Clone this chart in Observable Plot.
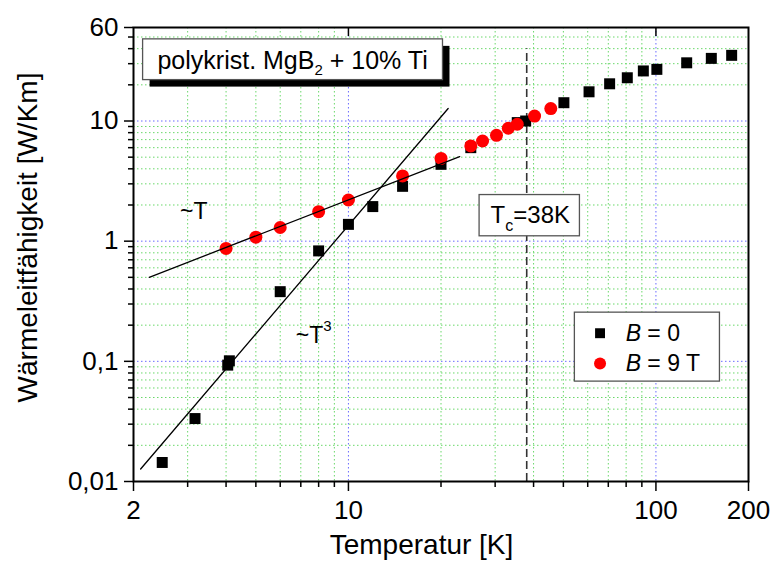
<!DOCTYPE html>
<html><head><meta charset="utf-8">
<script src="https://cdn.jsdelivr.net/npm/d3@7"></script>
<script src="https://cdn.jsdelivr.net/npm/@observablehq/plot@0.6"></script>
<style>body{margin:0;background:#fff;} #chart svg{display:block}</style>
</head><body><div id="chart"></div>
<script>
// ---- data ----
const tempB0  = [2.48, 3.17, 4.05, 4.1, 6.0, 8.0, 10.0, 12.0, 15.0, 20.0, 25.0, 35.4, 37.7, 50.2, 60.6, 70.7, 80.7, 91, 100.7, 125.9, 151.4, 176.3];
const kappaB0 = [0.0144, 0.0334, 0.093, 0.101, 0.38, 0.83, 1.38, 1.94, 2.86, 4.36, 6.0, 9.7, 10.0, 14.2, 17.5, 20.4, 22.9, 26.1, 26.9, 30.5, 33.2, 35.2];
const tempB9  = [4.0, 5.0, 6.0, 8.0, 10.0, 15.0, 20.0, 25.0, 27.3, 30.3, 33.1, 35.4, 40.3, 45.5];
const kappaB9 = [0.87, 1.08, 1.3, 1.76, 2.2, 3.49, 4.88, 6.2, 6.82, 7.6, 8.7, 9.4, 11.0, 12.7];
const fitLinT = [2.25, 23];
const fitLinK = [0.5, 5.06];
const fitCubT = [2.11, 21.1];
const fitCubK = [0.0127, 12.7];
const tcT = [38];
const tcK = [0.01, 40];
const xMajorTicks = [2, 10, 100, 200];
const xMinorTicks = [3, 4, 5, 6, 7, 8, 9, 20, 30, 40, 50, 60, 70, 80, 90];
const yMajorTicks = [0.01, 0.1, 1, 10];
const yTopTick = [60];
const yMinorTicks = [0.02,0.03,0.04,0.05,0.06,0.07,0.08,0.09,0.2,0.3,0.4,0.5,0.6,0.7,0.8,0.9,2,3,4,5,6,7,8,9,20,30,40,50];
const xGridMajor = [10, 100];
const yGridMajor = [0.1, 1, 10];
const topTicks = [10, 100];
// annotations (text, anchor in data units)
const annoLabels = ["polykrist. MgB2 + 10% Ti", "Tc=38K", "~T", "~T3", "B = 0", "B = 9 T"];
const annoX = [2.393, 29.0, 2.835, 6.74, 79.7, 79.7];
const annoY = [26.9, 1.425, 1.521, 0.143, 0.1477, 0.0832];
const annoSize = [25, 24, 23, 23, 23, 23];
const boxX1 = [2.149, 26.7, 54.5];
const boxX2 = [20.3, 56.6, 161.5];
const boxY1 = [21.9, 1.098, 0.0678];
const boxY2 = [47.8, 2.42, 0.2542];
const legendT = [65.8, 65.8];
const legendK = [0.1714, 0.0958];

const B0 = tempB0.map((t, i) => ({t, k: kappaB0[i]}));
const B9 = tempB9.map((t, i) => ({t, k: kappaB9[i]}));
const lin = fitLinT.map((t, i) => ({t, k: fitLinK[i]}));
const cub = fitCubT.map((t, i) => ({t, k: fitCubK[i]}));
const anno = annoLabels.map((s, i) => ({s, x: annoX[i], y: annoY[i], f: annoSize[i]}));
const boxes = boxX1.map((x1, i) => ({x1, x2: boxX2[i], y1: boxY1[i], y2: boxY2[i]}));

const green = "#6ad86a", blue = "#6a6aff", dots = "1.5,2.5";
const fmt = d => String(d).replace(".", ",");
const plotW = 773 - 133 - 25;

const chart = Plot.plot({
  width: 773, height: 568,
  marginLeft: 133, marginRight: 25, marginTop: 27, marginBottom: 87,
  x: {type: "log", domain: [2, 200]},
  y: {type: "log", domain: [0.01, 60]},
  style: {fontFamily: "'Liberation Sans', Arial, sans-serif", fontSize: "26px", background: "white", color: "black", overflow: "visible"},
  marks: [
    Plot.ruleX(xMinorTicks, {stroke: green, strokeDasharray: dots, strokeWidth: 1}),
    Plot.ruleY(yMinorTicks, {stroke: green, strokeDasharray: dots, strokeWidth: 1}),
    Plot.ruleX(xGridMajor, {stroke: blue, strokeDasharray: dots, strokeWidth: 1}),
    Plot.ruleY(yGridMajor, {stroke: blue, strokeDasharray: dots, strokeWidth: 1}),
    Plot.ruleX(tcT, {y1: tcK[0], y2: tcK[1], stroke: "#333", strokeWidth: 1.6, strokeDasharray: "8,4"}),
    Plot.dot(B0, {x: "t", y: "k", symbol: "square", r: 6.2, fill: "black", stroke: "none"}),
    Plot.dot(B9, {x: "t", y: "k", symbol: "circle", r: 6.5, fill: "#ff0000", stroke: "none"}),
    Plot.line(lin, {x: "t", y: "k", stroke: "black", strokeWidth: 1.3}),
    Plot.line(cub, {x: "t", y: "k", stroke: "black", strokeWidth: 1.3}),
    Plot.rect(boxes.slice(0, 1), {x1: "x1", x2: "x2", y1: "y1", y2: "y2", fill: "black", dx: 7, dy: 7}),
    Plot.rect(boxes, {x1: "x1", x2: "x2", y1: "y1", y2: "y2", fill: "white", stroke: "#555", strokeWidth: 1.3}),
    Plot.dot([{t: legendT[0], k: legendK[0]}], {x: "t", y: "k", symbol: "square", r: 5.6, fill: "black", stroke: "none"}),
    Plot.dot([{t: legendT[1], k: legendK[1]}], {x: "t", y: "k", symbol: "circle", r: 6, fill: "#ff0000", stroke: "none"}),
    Plot.text(anno, {x: "x", y: "y", text: "s", fontSize: "f", textAnchor: "start", lineAnchor: "bottom", fill: "black"}),
    Plot.frame({stroke: "black", strokeWidth: 2}),
    Plot.ruleX(topTicks, {insetBottom: 454 - 9, stroke: "black", strokeWidth: 1.5}),
    Plot.axisX({ticks: xMinorTicks, tickSize: 6, tickFormat: () => "", label: null, strokeWidth: 1.5}),
    Plot.axisX({ticks: xMajorTicks, tickSize: 10, tickPadding: 9, tickFormat: d => String(d), label: null, strokeWidth: 1.5}),
    Plot.axisY({ticks: yMinorTicks, tickSize: 5, tickFormat: () => "", label: null, strokeWidth: 1.5}),
    Plot.axisY({ticks: yMajorTicks, tickSize: 9, tickPadding: 6, tickFormat: fmt, label: null, strokeWidth: 1.5}),
    // top tick (60) on the left axis
    Plot.ruleY(yTopTick, {insetLeft: -9, insetRight: plotW, stroke: "black", strokeWidth: 1.5}),
    Plot.text(yTopTick, {y: d => d, frameAnchor: "left", dx: -15, textAnchor: "end", lineAnchor: "middle", text: fmt, fontSize: 26}),
    Plot.text(["Temperatur [K]"], {frameAnchor: "bottom", dx: -19.5, dy: 72, lineAnchor: "bottom", textAnchor: "middle", fontSize: 28}),
    Plot.text(["Wärmeleitfähigkeit [W/Km]"], {frameAnchor: "left", rotate: -90, dx: -105, dy: -17, lineAnchor: "middle", textAnchor: "middle", fontSize: 28})
  ]
});

// rich text: subscripts, superscripts, italics
const rich = new Map([
  [annoLabels[0], [["polykrist. MgB"], ["2", 15, 6], [" + 10% Ti"]]],
  [annoLabels[1], [["T"], ["c", 16, 8], ["=38K"]]],
  [annoLabels[3], [["~T"], ["3", 15, -12]]],
  [annoLabels[4], [["B", null, 0, true], [" = 0"]]],
  [annoLabels[5], [["B", null, 0, true], [" = 9 T"]]]
]);
d3.select(chart).selectAll("text").each(function() {
  const segs = rich.get(this.textContent);
  if (!segs) return;
  this.textContent = "";
  let cur = 0;
  for (const [s, size, shift = 0, it] of segs) {
    const ts = document.createElementNS("http://www.w3.org/2000/svg", "tspan");
    ts.textContent = s;
    if (size) ts.setAttribute("font-size", size);
    if (it) ts.setAttribute("font-style", "italic");
    if (shift !== cur) { ts.setAttribute("dy", shift - cur); cur = shift; }
    this.appendChild(ts);
  }
});
document.getElementById("chart").appendChild(chart);
</script>
</body></html>
